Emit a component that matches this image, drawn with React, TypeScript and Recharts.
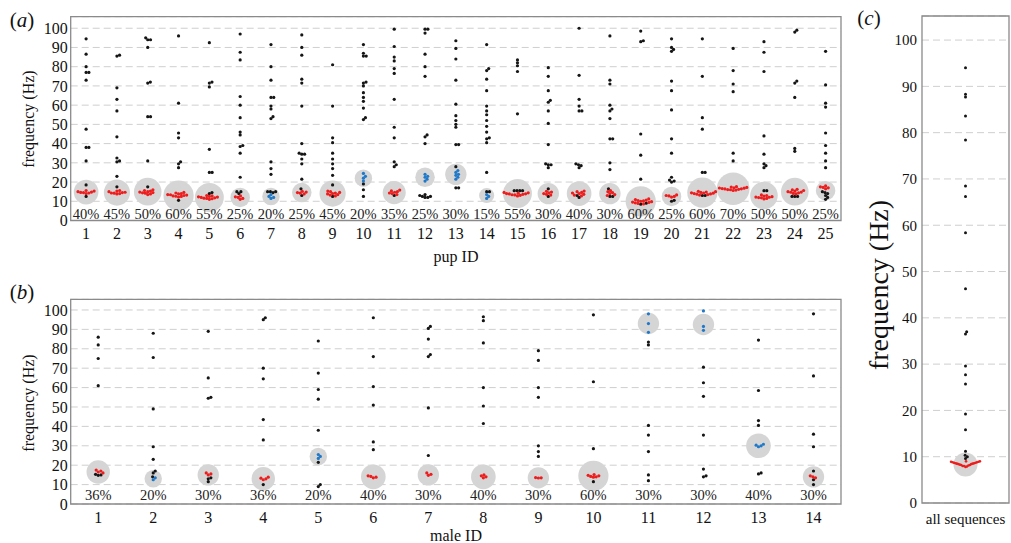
import React from "react";
import {
  ScatterChart,
  Scatter,
  XAxis,
  YAxis,
  CartesianGrid,
  ReferenceArea,
} from "recharts";

const FONT = '"Liberation Serif", "Times New Roman", serif';
const RED = "#ee1c1c";
const BLUE = "#1f78c8";
const BLACK = "#151515";
const GREY = "#d5d5d5";

const freqTicks = [0, 10, 20, 30, 40, 50, 60, 70, 80, 90, 100];

// (a) pups
const pupIds = [1, 2, 3, 4, 5, 6, 7, 8, 9, 10, 11, 12, 13, 14, 15, 16, 17, 18, 19, 20, 21, 22, 23, 24, 25];
const pupPct = [40, 45, 50, 60, 55, 25, 20, 25, 45, 20, 35, 25, 30, 15, 55, 30, 40, 30, 60, 25, 60, 70, 50, 50, 25];
const pupMode = [14.8, 14.5, 15, 13, 12, 12, 12.5, 14.5, 14, 22, 14.5, 22.5, 24, 13, 14, 14, 14, 14, 10, 12.5, 14.5, 16.5, 13, 15, 15.5];
const pupModeColor = ["r", "r", "r", "r", "r", "r", "b", "r", "r", "b", "r", "b", "b", "b", "r", "r", "r", "r", "r", "r", "r", "r", "r", "r", "r"];
const pupModal = [
  [14, 14.3, 14.6, 14.8, 15, 15.3, 15.6, 14.5],
  [13.8, 14, 14.3, 14.5, 14.7, 15, 15.3, 15.6, 14.2],
  [13.5, 13.8, 14.2, 14.5, 14.8, 15, 15.3, 15.6, 16, 14.4],
  [12.2, 12.5, 12.8, 13, 13.2, 13.5, 13.8, 14, 14.3, 14.6, 12.6, 13.4],
  [11, 11.3, 11.6, 11.8, 12, 12.2, 12.5, 12.8, 13, 11.5, 12.3],
  [11, 11.5, 12, 12.3, 12.8],
  [11.5, 12, 12.5, 13.5],
  [13.8, 14.2, 14.5, 14.8, 15.2],
  [12.8, 13.2, 13.5, 13.8, 14, 14.3, 14.6, 15, 15.3],
  [20.5, 22, 23, 24.5],
  [13.5, 14, 14.3, 14.7, 15, 15.4, 15.8],
  [20.5, 21.5, 22.5, 23, 24],
  [21.5, 22.5, 23.5, 24, 25, 26],
  [11.5, 12.5, 13.5],
  [12.8, 13.1, 13.4, 13.6, 13.8, 14, 14.2, 14.4, 14.6, 13.3, 13.9],
  [13.2, 13.6, 14, 14.4, 14.8, 15.2],
  [12.8, 13.2, 13.6, 14, 14.3, 14.6, 15, 15.3],
  [13, 13.5, 14, 14.5, 15, 15.5],
  [8.6, 8.9, 9.2, 9.4, 9.6, 9.8, 10, 10.2, 10.4, 10.6, 10.9, 11.2],
  [12.2, 12.5, 12.8, 13, 13.3],
  [13.2, 13.5, 13.8, 14, 14.2, 14.4, 14.6, 14.8, 15, 15.2, 13.7, 14.3],
  [15.8, 16, 16.2, 16.4, 16.6, 16.8, 17, 17.2, 17.4, 16.1, 16.5, 16.9, 17.6, 15.6],
  [11.2, 11.5, 11.8, 12.1, 12.4, 12.7, 13, 13.3, 12.2, 11.9],
  [13.8, 14.1, 14.4, 14.7, 15, 15.3, 15.6, 15.9, 16.2, 14.8],
  [16.5, 17, 17.2, 17.5, 18],
];
const pupOther = [
  [94.5, 86.5, 80, 77, 77, 73, 47.5, 38, 38, 31, 18.5, 12.5],
  [86, 85.5, 69, 63, 57, 43.5, 32.5, 31, 30.5, 23, 17.5],
  [95, 94, 94, 90, 72, 71.5, 54, 54, 31, 17.5],
  [96, 61, 45.5, 43, 30.5, 29.5, 27.5, 10.5],
  [92.5, 72, 71.5, 69.5, 37, 25, 25, 14.5, 14],
  [97, 87.5, 83.5, 64.5, 60, 53.5, 46, 44.5, 38.5, 39, 35, 22.5, 15, 15, 14],
  [91.5, 80, 73, 64, 64, 59.5, 58, 54, 53, 30.5, 27, 24, 15, 15, 15, 14.5],
  [96.5, 90, 86, 73.5, 71.5, 59.5, 40, 34.5, 34.5, 35, 32, 29.5, 21.5, 16.5, 13],
  [81, 59.5, 43, 40.5, 35, 32, 29.5, 27, 23.5, 18.5, 12.5],
  [91.5, 87, 85.5, 85.5, 72, 71.5, 70, 66.5, 64, 62, 58.5, 53.5, 52.5, 19, 16, 12.5],
  [99.5, 90.5, 85, 83, 79, 76.5, 63, 48.5, 43, 30.5, 29, 28, 13],
  [99.5, 99.5, 97.5, 86.5, 80, 75, 44.5, 43.5, 40, 13.5, 13, 12.5, 12.5, 12, 12],
  [93.5, 89.5, 84, 73, 60.5, 54.5, 52, 50, 48.5, 39.5, 39.5, 28, 17, 17],
  [91.5, 79, 78, 73.5, 67.5, 59.5, 57, 55, 52, 49, 46, 43, 42.5, 40.5, 25, 15, 15],
  [83.5, 82, 80.5, 77.5, 55.5, 15.5, 15.5, 15.5, 15.5],
  [79.5, 75, 67.5, 62.5, 61.5, 57, 50.5, 39.5, 29.5, 29, 29, 27.5, 16.5, 12.5],
  [100, 75.5, 63, 59.5, 57, 57, 29.5, 29, 28.5, 27.5, 13, 12],
  [96, 73, 71, 60, 58, 57, 53, 42.5, 42.5, 30, 26.5, 16.5, 12.5, 12.5],
  [98.5, 93.5, 93, 45, 34, 21.5, 9, 8.5],
  [94.5, 90, 89, 88, 72.5, 67.5, 57.5, 42.5, 35, 22.5, 21, 20.5, 20, 10.5, 10],
  [94.5, 75, 53.5, 47.5, 25, 25, 13, 13],
  [89.5, 78, 71, 67, 35, 31],
  [93, 87.5, 77.5, 44, 34.5, 29.5, 28.5, 27.5, 15.5, 15.5],
  [99, 98, 72.5, 71.5, 64, 37.5, 36, 12.5, 12.5, 12.5],
  [88, 70.5, 61, 59, 45.5, 39, 35, 31, 27.5, 15, 14.5, 14, 13, 12, 11],
];

// (b) males
const maleIds = [1, 2, 3, 4, 5, 6, 7, 8, 9, 10, 11, 12, 13, 14];
const malePct = [36, 20, 30, 36, 20, 40, 30, 40, 30, 60, 30, 30, 40, 30];
const maleMode = [16.5, 13, 15, 13, 24.5, 14, 15, 14, 13.5, 14.5, 93, 92.5, 30, 14];
const maleModeColor = ["r", "b", "r", "r", "b", "r", "r", "r", "r", "r", "b", "b", "b", "r"];
const maleModal = [
  [16, 16.5, 17, 17.5],
  [12.5, 13.5],
  [15, 15.5, 16],
  [12.5, 13, 13.3, 13.8],
  [23.5, 24.5, 25.5],
  [13.5, 13.8, 14.2, 14.5],
  [14.8, 15.3, 16],
  [13.5, 14, 14.5, 15],
  [13.4, 13.5, 13.6],
  [13.8, 14.2, 14.5, 14.8, 15.2, 14],
  [88.5, 93, 98],
  [89.5, 91.5, 99.5],
  [29.5, 30, 30.3, 30.8],
  [13.5, 14, 14.5],
];
const maleOther = [
  [86, 82, 75, 61, 15, 14.8, 15.3],
  [88, 75.5, 49, 29.5, 23, 17, 16, 14],
  [89, 65, 55, 54.5, 13.5, 13, 11.5],
  [96, 95, 70, 64.5, 43.5, 33, 10],
  [84, 67.5, 59, 54, 38, 21.5, 10, 9],
  [96, 76, 60.5, 51, 32, 28],
  [91.5, 90.5, 85, 77, 76, 49.5, 25],
  [96.5, 94.5, 83, 60, 50.5, 41.5],
  [79, 74, 60, 55, 30, 27, 24.5],
  [97.5, 63, 28.5, 11.5],
  [83.5, 82, 40.5, 35.5, 27, 15, 12],
  [70.5, 62.5, 55.5, 35.5, 18, 14.5, 14],
  [84.5, 58.5, 43, 40.5, 16, 15.5],
  [98, 66, 36, 29.5, 17, 12.5, 10],
];

// (c) all sequences
const allMode = 8.3;
const allModal = [7.8, 7.9, 8.0, 8.0, 8.1, 8.2, 8.2, 8.3, 8.4, 8.4, 8.5, 8.5, 8.6, 8.6, 8.7, 8.7, 8.8, 8.8, 8.9, 8.9, 9.0, 9.0];
const allOther = [94, 88.3, 87.7, 83.6, 78.4, 68.5, 66.2, 58.4, 46.3, 37, 36.5, 29.6, 27.7, 25.7, 19.2, 15.8, 11.2, 10.3, 10, 9.6];

type Pt = { x: number; y: number };

// simple beeswarm: px offsets so dots at similar frequency sit side by side
// (ax, ay) = half-axes of the collision ellipse in px
function swarm(vals: number[], pxPerHz: number, ax: number, ay: number): number[] {
  const order = vals.map((_, i) => i).sort((a, b) => vals[a] - vals[b]);
  const placed: Pt[] = [];
  const out = new Array(vals.length).fill(0);
  const hits = (p: Pt, x: number, y: number) =>
    ((p.x - x) / ax) ** 2 + ((p.y - y) / ay) ** 2 < 1 - 1e-6;
  for (const i of order) {
    const y = vals[i] * pxPerHz;
    const near = placed.filter((p) => Math.abs(p.y - y) < ay);
    const cands = [0];
    for (const p of near) {
      const w = ax * Math.sqrt(1 - ((p.y - y) / ay) ** 2);
      cands.push(p.x + w, p.x - w);
    }
    cands.sort((a, b) => Math.abs(a) - Math.abs(b));
    const x = cands.find((c) => near.every((p) => !hits(p, c, y))) ?? 0;
    placed.push({ x, y });
    out[i] = x;
  }
  return out;
}

function buildDots(
  ids: number[],
  other: number[][],
  modal: number[][],
  colors: string[],
  pxPerHz: number,
  pxPerUnit: number,
  d: number
) {
  const black: Pt[] = [];
  const red: Pt[] = [];
  const blue: Pt[] = [];
  ids.forEach((id, g) => {
    const vals = [...other[g], ...modal[g]];
    const offs = swarm(vals, pxPerHz, d, d);
    vals.forEach((v, i) => {
      const p = { x: id + offs[i] / pxPerUnit, y: v };
      if (i < other[g].length) black.push(p);
      else if (colors[g] === "b") blue.push(p);
      else red.push(p);
    });
  });
  return { black, red, blue };
}

const dot = (fill: string, r: number) => (props: any) =>
  <circle cx={props.cx} cy={props.cy} r={r} fill={fill} />;

const modeCircle = (props: any) => (
  <circle cx={props.cx} cy={props.cy} r={props.payload.rad} fill={GREY} />
);

const pctText = (props: any) => (
  <text
    x={props.cx}
    y={props.cy}
    textAnchor="middle"
    dominantBaseline="central"
    fontFamily={FONT}
    fontSize={14.5}
    fill="#222"
  >
    {props.payload.pct}%
  </text>
);

interface PanelProps {
  ids: number[];
  pct: number[];
  mode: number[];
  modeColor: string[];
  modal: number[][];
  other: number[][];
  width: number;
  height: number;
  margin: { top: number; right: number; bottom: number; left: number };
  yTop: number;
  pxPerHz: number;
  pxPerUnit: number;
  labelY: number;
  tickMargin: number;
}

function IdPanel(p: PanelProps) {
  const dots = buildDots(p.ids, p.other, p.modal, p.modeColor, p.pxPerHz, p.pxPerUnit, 2.8);
  const circles = p.ids.map((id, i) => ({ x: id, y: p.mode[i], rad: 1.95 * Math.sqrt(p.pct[i]) }));
  const labels = p.ids.map((id, i) => ({ x: id, y: p.labelY, pct: p.pct[i] }));
  const n = p.ids.length;
  return (
    <ScatterChart width={p.width} height={p.height} margin={p.margin}>
      <CartesianGrid vertical={false} stroke="#cfcfcf" strokeDasharray="7 4" />
      <XAxis
        dataKey="x"
        type="number"
        domain={[0.5, n + 0.5]}
        ticks={p.ids}
        interval={0}
        tickLine={false}
        axisLine={false}
        tickSize={0}
        tickMargin={p.tickMargin}
        height={30}
        tick={{ fill: "#111", fontSize: 16, fontFamily: FONT }}
      />
      <YAxis
        dataKey="y"
        type="number"
        domain={[0, p.yTop]}
        ticks={freqTicks}
        interval={0}
        tickLine={false}
        axisLine={false}
        tickSize={0}
        tickMargin={3}
        width={70.7}
        tick={{ fill: "#111", fontSize: 16, fontFamily: FONT }}
      />
      <ReferenceArea x1={0.5} x2={n + 0.5} y1={0} y2={p.yTop} fill="none" stroke="#8a8a8a" strokeWidth={1.3} />
      <Scatter data={circles} shape={modeCircle} isAnimationActive={false} />
      <Scatter data={labels} shape={pctText} isAnimationActive={false} />
      <Scatter data={dots.black} shape={dot(BLACK, 1.6)} isAnimationActive={false} />
      <Scatter data={dots.red} shape={dot(RED, 1.6)} isAnimationActive={false} />
      <Scatter data={dots.blue} shape={dot(BLUE, 1.6)} isAnimationActive={false} />
    </ScatterChart>
  );
}

function AllPanel() {
  const pxPerHz = 4.63;
  const pxPerUnit = 43.5;
  const bOff = swarm(allOther, pxPerHz, 2.6, 2.6);
  const rOff = swarm(allModal, pxPerHz, 1.45, 6);
  const black = allOther.map((v, i) => ({ x: 1 + bOff[i] / pxPerUnit, y: v }));
  const red = allModal.map((v, i) => ({ x: 1 + rOff[i] / pxPerUnit, y: v }));
  const circles = [{ x: 1, y: allMode, rad: 12 }];
  return (
    <ScatterChart width={161} height={543} margin={{ top: 16, right: 2, bottom: 12, left: 0 }}>
      <CartesianGrid vertical={false} stroke="#cfcfcf" strokeDasharray="7 4" />
      <XAxis
        dataKey="x"
        type="number"
        domain={[0, 2]}
        ticks={[1]}
        tickFormatter={() => "all sequences"}
        tickLine={false}
        axisLine={false}
        tickSize={0}
        tickMargin={10}
        height={28}
        tick={{ fill: "#111", fontSize: 15, fontFamily: FONT }}
      />
      <YAxis
        dataKey="y"
        type="number"
        domain={[0, 105.2]}
        ticks={freqTicks}
        interval={0}
        tickLine={false}
        axisLine={false}
        tickSize={0}
        tickMargin={5}
        width={72}
        tick={{ fill: "#111", fontSize: 15, fontFamily: FONT }}
      />
      <ReferenceArea x1={0} x2={2} y1={0} y2={105.2} fill="none" stroke="#8a8a8a" strokeWidth={1.3} />
      <Scatter data={circles} shape={modeCircle} isAnimationActive={false} />
      <Scatter data={black} shape={dot(BLACK, 1.5)} isAnimationActive={false} />
      <Scatter data={red} shape={dot(RED, 1.3)} isAnimationActive={false} />
    </ScatterChart>
  );
}

export default function App() {
  return (
    <div
      style={{
        position: "absolute",
        left: 0,
        top: 0,
        width: 1011,
        height: 543,
        background: "#fff",
        overflow: "hidden",
        fontFamily: FONT,
      }}
    >
      <div style={{ position: "absolute", left: 0, top: 0 }}>
        <IdPanel
          ids={pupIds}
          pct={pupPct}
          mode={pupMode}
          modeColor={pupModeColor}
          modal={pupModal}
          other={pupOther}
          width={860}
          height={272}
          margin={{ top: 16.7, right: 19, bottom: 21.5, left: 0 }}
          yTop={106}
          pxPerHz={1.922}
          pxPerUnit={30.84}
          labelY={3.3}
          tickMargin={7}
        />
      </div>
      <div style={{ position: "absolute", left: 0, top: 280 }}>
        <IdPanel
          ids={maleIds}
          pct={malePct}
          mode={maleMode}
          modeColor={maleModeColor}
          modal={maleModal}
          other={maleOther}
          width={860}
          height={263}
          margin={{ top: 19.3, right: 19, bottom: 9, left: 0 }}
          yTop={105.5}
          pxPerHz={1.94}
          pxPerUnit={55}
          labelY={4.6}
          tickMargin={8}
        />
      </div>
      <div style={{ position: "absolute", left: 850, top: 0 }}>
        <AllPanel />
      </div>
      <svg
        width={1011}
        height={543}
        style={{ position: "absolute", left: 0, top: 0, pointerEvents: "none" }}
        fontFamily={FONT}
        fill="#111"
      >
        <text x={22} y={20} fontSize={21} textAnchor="middle" dominantBaseline="central">
          (<tspan fontStyle="italic">a</tspan>)
        </text>
        <text x={22} y={292} fontSize={21} textAnchor="middle" dominantBaseline="central">
          (<tspan fontStyle="italic">b</tspan>)
        </text>
        <text x={869} y={18} fontSize={21} textAnchor="middle" dominantBaseline="central">
          (<tspan fontStyle="italic">c</tspan>)
        </text>
        <text
          transform="translate(28 119) rotate(-90)"
          fontSize={16}
          textAnchor="middle"
          dominantBaseline="central"
        >
          frequency (Hz)
        </text>
        <text
          transform="translate(28 403) rotate(-90)"
          fontSize={16}
          textAnchor="middle"
          dominantBaseline="central"
        >
          frequency (Hz)
        </text>
        <text
          transform="translate(878 285) rotate(-90)"
          fontSize={28}
          textAnchor="middle"
          dominantBaseline="central"
        >
          frequency (Hz)
        </text>
        <text x={456} y={256} fontSize={16} textAnchor="middle" dominantBaseline="central">
          pup ID
        </text>
        <text x={456} y={535} fontSize={16} textAnchor="middle" dominantBaseline="central">
          male ID
        </text>
      </svg>
    </div>
  );
}
